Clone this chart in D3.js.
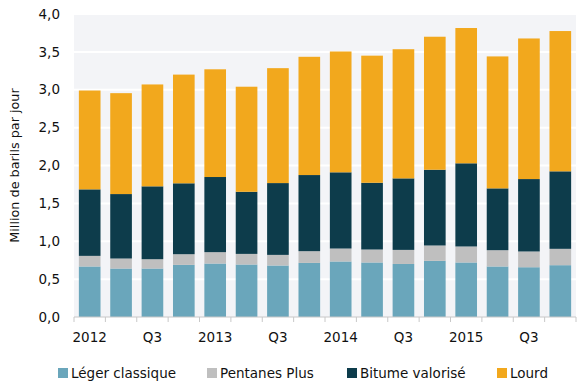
<!DOCTYPE html>
<html><head><meta charset="utf-8">
<script src="https://cdn.jsdelivr.net/npm/d3@7"></script>
<style>body{margin:0;background:#fff}svg{display:block}text{font-family:"DejaVu Sans",Verdana,sans-serif;fill:#111}</style>
</head><body>
<script>
const quarters = ["2012 T1","2012 T2","2012 T3","2012 T4","2013 T1","2013 T2","2013 T3","2013 T4","2014 T1","2014 T2","2014 T3","2014 T4","2015 T1","2015 T2","2015 T3","2015 T4"];
const tickLabels = ["2012","","Q3","","2013","","Q3","","2014","","Q3","","2015","","Q3",""];
const leger    = [0.667,0.640,0.640,0.688,0.706,0.693,0.680,0.714,0.733,0.720,0.700,0.741,0.720,0.667,0.657,0.684];
const pentanes = [0.140,0.132,0.123,0.141,0.150,0.140,0.140,0.155,0.171,0.171,0.186,0.203,0.211,0.215,0.208,0.216];
const bitume   = [0.878,0.851,0.962,0.936,0.992,0.820,0.948,1.005,1.006,0.881,0.944,1.000,1.098,0.816,0.956,1.023];
const lourd    = [1.305,1.332,1.345,1.435,1.422,1.387,1.517,1.561,1.595,1.678,1.705,1.756,1.786,1.742,1.856,1.852];
const seriesNames = ["Léger classique","Pentanes Plus","Bitume valorisé","Lourd"];
const colors = ["#6aa6bb","#bfbfbf","#0d3c4b","#f2a81d"];
const yTicks = [0,0.5,1,1.5,2,2.5,3,3.5,4];

const W=580,H=381;
const m={l:74,r:4,t:14,b:64};
const svg=d3.select("body").append("svg").attr("width",W).attr("height",H);
const x=d3.scaleBand().domain(quarters).range([m.l,W-m.r]).paddingInner(0.31).paddingOuter(0.155);
const y=d3.scaleLinear().domain([0,4]).range([H-m.b,m.t]);

svg.append("rect").attr("x",m.l).attr("y",m.t).attr("width",W-m.r-m.l).attr("height",H-m.b-m.t).attr("fill","#f3f4f7");
svg.append("g").selectAll("line").data(yTicks.slice(1)).join("line")
  .attr("x1",m.l).attr("x2",W-m.r).attr("y1",d=>y(d)).attr("y2",d=>y(d))
  .attr("stroke","#fff").attr("stroke-width",2);

const table=quarters.map((q,i)=>({q,s0:leger[i],s1:pentanes[i],s2:bitume[i],s3:lourd[i]}));
const stack=d3.stack().keys(["s0","s1","s2","s3"])(table);
svg.append("g").selectAll("g").data(stack).join("g").attr("fill",(d,i)=>colors[i])
  .selectAll("rect").data(d=>d).join("rect")
  .attr("x",d=>x(d.data.q)).attr("width",x.bandwidth())
  .attr("y",d=>y(d[1])).attr("height",d=>y(d[0])-y(d[1]));

// y labels
const fmt=d3.format(".1f");
svg.append("g").selectAll("text").data(yTicks).join("text")
  .attr("x",60).attr("y",d=>y(d)).attr("dy","0.35em").attr("text-anchor","end")
  .attr("font-size",13.5).text(d=>fmt(d).replace(".",","));

// x axis
const step=x.step();
const gap=(step-x.bandwidth())/2;
const xa=svg.append("g").attr("transform",`translate(0,${H-m.b})`);
xa.append("line").attr("x1",m.l).attr("x2",W-m.r).attr("stroke","#c8c8c8");
xa.selectAll("line.t").data(quarters).join("line").attr("class","t")
  .attr("x1",d=>x(d)-gap).attr("x2",d=>x(d)-gap)
  .attr("y1",0).attr("y2",5).attr("stroke","#c8c8c8");
xa.append("line").attr("x1",W-m.r).attr("x2",W-m.r).attr("y1",0).attr("y2",5).attr("stroke","#c8c8c8");
xa.selectAll("text").data(quarters).join("text")
  .attr("x",d=>x(d)+x.bandwidth()/2).attr("y",25).attr("text-anchor","middle")
  .attr("font-size",13.5).text((d,i)=>tickLabels[i]);

// y title
svg.append("text").attr("transform",`translate(19,${(m.t+H-m.b)/2}) rotate(-90)`)
  .attr("text-anchor","middle").attr("font-size",12.8).text("Million de barils par jour");

// legend
const lx=[58,207,347,497];
const lg=svg.append("g").selectAll("g").data(seriesNames).join("g").attr("transform",(d,i)=>`translate(${lx[i]},368)`);
lg.append("rect").attr("width",10).attr("height",10).attr("fill",(d,i)=>colors[i]);
lg.append("text").attr("x",13).attr("y",10).attr("font-size",13.5).text(d=>d);
</script>
</body></html>
